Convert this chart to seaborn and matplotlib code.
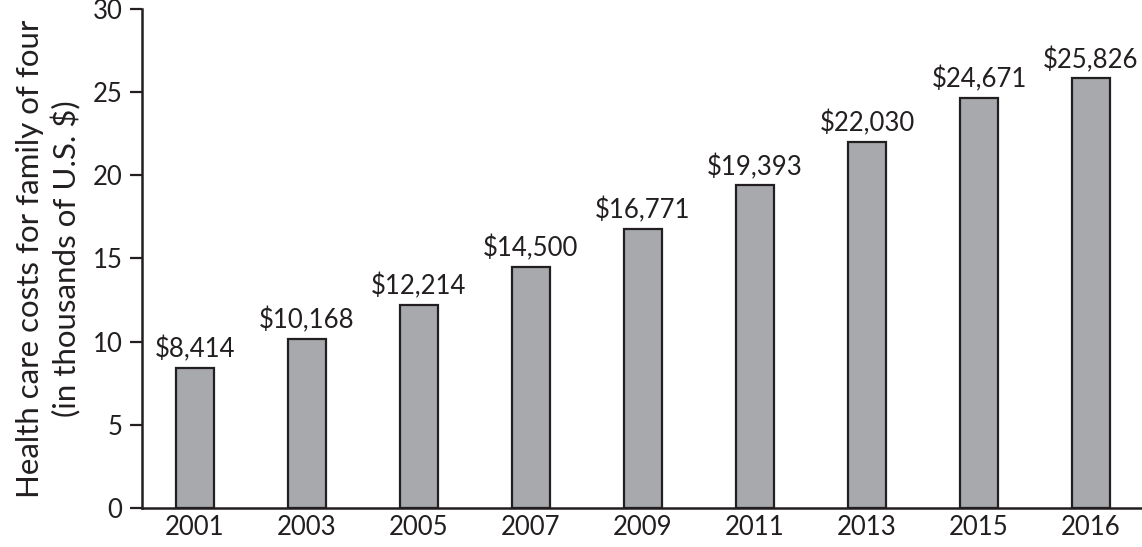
import matplotlib
matplotlib.use("Agg")
import matplotlib.pyplot as plt
import seaborn as sns
import pandas as pd

years = ["2001", "2003", "2005", "2007", "2009", "2011", "2013", "2015", "2016"]
costs = [8.414, 10.168, 12.214, 14.500, 16.771, 19.393, 22.030, 24.671, 25.826]
labels = ["$8,414", "$10,168", "$12,214", "$14,500", "$16,771", "$19,393", "$22,030", "$24,671", "$25,826"]
yticks = [0, 5, 10, 15, 20, 25, 30]

sns.set_theme(style="ticks")
plt.rcParams['font.family'] = ['Lato', 'DejaVu Sans']

df = pd.DataFrame({"year": years, "cost": costs})
fig = plt.figure(figsize=(11.42, 5.47), dpi=100)
ax = fig.add_axes([0.1243, 0.0713, 0.8757, 0.9123])
sns.barplot(data=df, x="year", y="cost", color="#a7a9ac", edgecolor="#231f20",
            linewidth=1.6, width=0.335, saturation=1, ax=ax)
for i, (v, t) in enumerate(zip(costs, labels)):
    ax.annotate(t, (i, v), xytext=(0, 4), textcoords="offset points",
                ha="center", va="bottom", fontsize=18.5, color="#231f20")
ax.set_ylim(0, 30)
ax.set_xlim(-0.473, 8.455)
ax.set_yticks(yticks)
ax.set_xlabel("")
ax.set_ylabel("Health care costs for family of four\n(in thousands of U.S. $)", fontsize=22.5,
              color="#231f20", labelpad=8, linespacing=1.3)
ax.tick_params(axis="y", length=9, width=1.6, color="#231f20", labelsize=18.5, labelcolor="#231f20", pad=5)
ax.tick_params(axis="x", length=0, labelsize=18.5, labelcolor="#231f20", pad=5)
for s in ["top", "right"]:
    ax.spines[s].set_visible(False)
for s in ["left", "bottom"]:
    ax.spines[s].set_linewidth(1.8)
    ax.spines[s].set_color("#231f20")
fig.savefig("out.png", dpi=100)
